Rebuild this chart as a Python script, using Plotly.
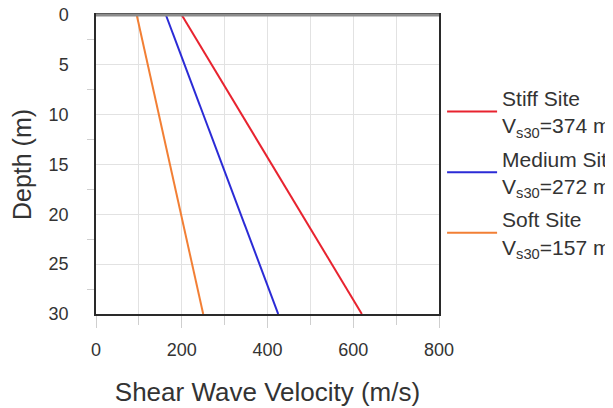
import plotly.graph_objects as go

# --- Data ---
DEPTH = [0, 30]
STIFF_VS = [200, 620]
MEDIUM_VS = [163, 425]
SOFT_VS = [95, 250]

SITE_NAMES = ["Stiff Site", "Medium Site", "Soft Site"]
VS30_VALUES = [374, 272, 157]
SITE_COLORS = ["#e8232f", "#2b2bd6", "#f27f35"]

X_TICKS = [0, 200, 400, 600, 800]
Y_TICKS = [0, 5, 10, 15, 20, 25, 30]

FONT = "Liberation Sans, Arial, sans-serif"
TEXT_COLOR = "#333333"
GRID_COLOR = "#e2e2e2"
TICK_COLOR = "#cfcfcf"

fig = go.Figure()

for name, vs30, vs, color in zip(SITE_NAMES, VS30_VALUES, [STIFF_VS, MEDIUM_VS, SOFT_VS], SITE_COLORS):
    fig.add_trace(
        go.Scatter(
            x=vs,
            y=DEPTH,
            mode="lines",
            name=f"{name}<br>V<sub>s30</sub>={vs30} m/s",
            legendgroup=name,
            line=dict(color=color, width=2),
        )
    )

# page body has an 8px margin; the figure is wider than the window so the
# legend text runs off the right edge, as in the reference
fig.update_layout(
    width=660,
    height=400,
    margin=dict(l=88, r=229, t=7, b=94),
    paper_bgcolor="white",
    plot_bgcolor="white",
    font=dict(family=FONT, size=18, color=TEXT_COLOR),
    legend=dict(
        x=1.009,
        y=0.79,
        xanchor="left",
        yanchor="top",
        font=dict(size=21, color=TEXT_COLOR),
        tracegroupgap=3,
        itemwidth=50,
        bgcolor="rgba(0,0,0,0)",
    ),
    showlegend=True,
)

# grey, heavier top edge of the frame
fig.add_shape(type="line", xref="paper", yref="paper", x0=0, x1=1, y0=1, y1=1,
              line=dict(color="#8c8c8c", width=3), layer="above")

fig.update_xaxes(
    range=[0, 800],
    tickvals=X_TICKS,
    automargin=False,
    title=dict(text="Shear Wave Velocity (m/s)", font=dict(size=26, color=TEXT_COLOR), standoff=23),
    showgrid=True,
    gridcolor=GRID_COLOR,
    minor=dict(dtick=100, showgrid=True, gridcolor=GRID_COLOR, ticks="outside",
               ticklen=9, tickcolor=TICK_COLOR),
    ticks="outside",
    ticklen=12,
    tickcolor=TICK_COLOR,
    ticklabelstandoff=7,
    showline=True,
    linecolor="#2a2a2a",
    linewidth=1.5,
    mirror=True,
    zeroline=False,
    tickfont=dict(size=18, color=TEXT_COLOR),
)

# long white major ticks push the labels away from the axis; short grey minor ticks stay visible
fig.update_yaxes(
    range=[30, 0],
    tickvals=Y_TICKS,
    ticklabeloverflow="allow",
    automargin=False,
    title=dict(text="Depth (m)", font=dict(size=25, color=TEXT_COLOR), standoff=15),
    showgrid=True,
    gridcolor=GRID_COLOR,
    minor=dict(dtick=2.5, ticks="outside", ticklen=7, tickcolor=TICK_COLOR, showgrid=False),
    ticks="outside",
    ticklen=22,
    tickcolor="white",
    showline=True,
    linecolor="#2a2a2a",
    linewidth=1.5,
    mirror=True,
    zeroline=False,
    tickfont=dict(size=18, color=TEXT_COLOR),
)

fig.write_html("out.html")
